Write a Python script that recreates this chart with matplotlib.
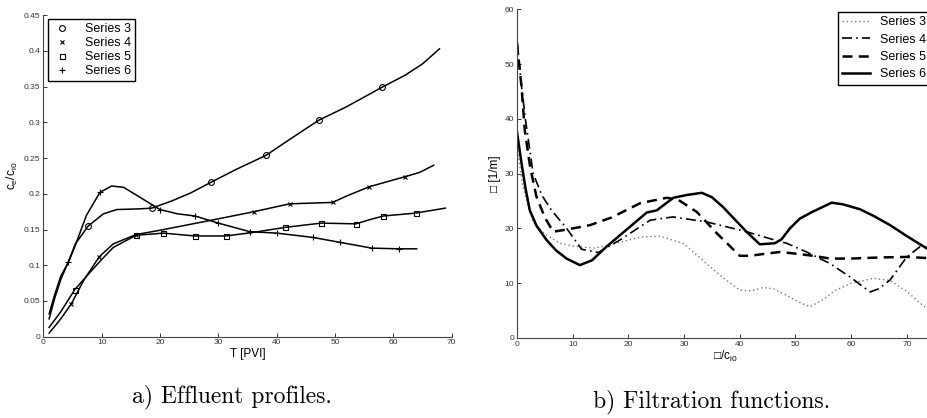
import numpy as np
import matplotlib
matplotlib.use("Agg")
import matplotlib.pyplot as plt

plt.rcParams['font.family'] = ['Liberation Sans', 'DejaVu Sans']
plt.rcParams['mathtext.fontset'] = 'custom'
plt.rcParams['mathtext.rm'] = 'Liberation Sans'
plt.rcParams['mathtext.it'] = 'Liberation Sans'

labels = ['Series 3', 'Series 4', 'Series 5', 'Series 6']

# a) effluent profiles: smooth line points
s3_x = [1, 2, 3, 4.3, 5.5, 7.7, 10.3, 12.6, 16.6, 18.6, 22, 25.2, 28.7, 33, 38.2, 42, 47.2, 52, 58, 62, 65, 67.9]
s3_y = [0.025, 0.055, 0.08, 0.105, 0.13, 0.155, 0.172, 0.178, 0.179, 0.18, 0.19, 0.201, 0.216, 0.234, 0.254,
        0.275, 0.303, 0.322, 0.349, 0.366, 0.382, 0.403]
s4_x = [1, 3, 4.8, 7, 9.6, 12, 15.9, 20, 25, 30, 36.1, 42.2, 49.6, 52, 55.9, 62, 64.5, 66.9]
s4_y = [0.005, 0.025, 0.046, 0.08, 0.112, 0.13, 0.143, 0.149, 0.157, 0.165, 0.175, 0.186, 0.188, 0.197,
        0.21, 0.224, 0.23, 0.24]
s5_x = [1, 3, 5.4, 8, 10, 12, 15.9, 20.6, 26, 31.3, 36, 41.4, 47.6, 53.6, 56, 58.3, 63.8, 68.9]
s5_y = [0.013, 0.035, 0.066, 0.09, 0.108, 0.125, 0.142, 0.145, 0.141, 0.141, 0.146, 0.153, 0.159, 0.158,
        0.164, 0.169, 0.173, 0.18]
s6_x = [1, 2, 3, 4.3, 5.4, 7.4, 9.7, 11.7, 13.8, 16, 18.6, 20, 23, 26, 30, 35.4, 40, 46.2, 50.9, 56.3, 61, 64]
s6_y = [0.032, 0.06, 0.085, 0.104, 0.126, 0.17, 0.202, 0.211, 0.209, 0.198, 0.185, 0.178, 0.172, 0.169,
        0.159, 0.147, 0.145, 0.139, 0.132, 0.124, 0.123, 0.123]

# marker positions
m3_x = [7.7, 18.6, 28.7, 38.2, 47.2, 58]
m3_y = [0.155, 0.18, 0.216, 0.254, 0.303, 0.349]
m4_x = [4.8, 9.6, 15.9, 36.1, 42.2, 49.6, 55.9, 62]
m4_y = [0.046, 0.112, 0.143, 0.175, 0.186, 0.188, 0.21, 0.224]
m5_x = [5.4, 15.9, 20.6, 26, 31.3, 41.4, 47.6, 53.6, 58.3, 63.8]
m5_y = [0.066, 0.142, 0.145, 0.141, 0.141, 0.153, 0.159, 0.158, 0.169, 0.173]
m6_x = [4.3, 9.7, 20, 26, 30, 35.4, 40, 46.2, 50.9, 56.3, 61]
m6_y = [0.104, 0.202, 0.178, 0.169, 0.159, 0.147, 0.145, 0.139, 0.132, 0.124, 0.123]

# b) filtration functions
f3_x = [0, 1, 2, 3, 5, 7.7, 10, 13.7, 16, 18.5, 22.1, 25.7, 30, 34, 37, 40, 42, 44.2, 46, 48.4, 50.5,
        52.6, 55, 57, 60, 64, 67, 70, 73.5]
f3_y = [35, 28, 24, 21, 19, 17.3, 16.8, 16.4, 16.8, 17.5, 18.4, 18.6, 17.2, 13.6, 11, 8.75, 8.6, 9.2, 9,
        7.8, 6.6, 5.7, 7, 8.6, 10, 10.9, 10.5, 8.5, 5.4]
f4_x = [0, 0.7, 1.5, 2.9, 4.5, 6.2, 8.7, 11.6, 14.6, 18.5, 22.1, 23.9, 28, 34, 41.2, 47.2, 48.4, 52, 56.2,
        60, 63.4, 65, 67, 70, 72.4, 73.5]
f4_y = [54.5, 47, 40, 30, 26, 23.3, 20.3, 16.2, 15.6, 17.9, 20.3, 21.5, 22.1, 21.2, 19.4, 17.6, 17.3, 15.7,
        13.6, 11, 8.4, 9, 10.6, 14.8, 16.7, 16.6]
f5_x = [0, 0.8, 1.4, 2.4, 3.5, 5, 6.5, 9, 13.1, 17, 22.1, 26.9, 29, 32.3, 35.9, 40, 41.8, 44, 47.2, 50,
        53.2, 56.2, 60, 65.2, 70, 73.5]
f5_y = [53.7, 46, 37.9, 31, 25.8, 22, 19.4, 19.8, 20.6, 22, 24.6, 25.6, 25.2, 23, 19.1, 15, 15, 15.3, 15.7,
        15.4, 15, 14.5, 14.5, 14.7, 14.8, 14.6]
f6_x = [0, 0.8, 1.5, 2.3, 3.5, 5.3, 7, 8.9, 11.3, 13.5, 16.1, 19.7, 23.3, 25.1, 28.1, 30.5, 33.2, 35, 37,
        41.2, 43.6, 46.3, 47.5, 49, 50.8, 53, 56.5, 58.5, 61.6, 64, 67, 70, 73.5]
f6_y = [37.6, 32, 27.5, 23.3, 20.5, 17.9, 16, 14.5, 13.3, 14.2, 16.7, 19.8, 22.9, 23.3, 25.6, 26.1, 26.5,
        25.7, 23.9, 19.4, 17.1, 17.3, 18, 20, 21.8, 23, 24.7, 24.4, 23.5, 22.3, 20.6, 18.6, 16.4]

fig = plt.figure(figsize=(9.27, 4.18), dpi=100)

ax1 = fig.add_axes([0.0467, 0.1945, 0.4406, 0.769])
for x, y in [(s3_x, s3_y), (s4_x, s4_y), (s5_x, s5_y), (s6_x, s6_y)]:
    ax1.plot(x, y, color='black', lw=1.1)
mk = dict(color='black', ls='none', mfc='none', mew=0.8)
ax1.plot(m3_x, m3_y, marker='o', ms=4.2, label=labels[0], **mk)
ax1.plot(m4_x, m4_y, marker='x', ms=3.2, label=labels[1], **mk)
ax1.plot(m5_x, m5_y, marker='s', ms=3.6, label=labels[2], **mk)
ax1.plot(m6_x, m6_y, marker='+', ms=4.5, label=labels[3], **mk)
ax1.set_xlim(0, 70)
ax1.set_ylim(0, 0.45)
ax1.set_xticks(np.arange(0, 71, 10))
ax1.set_yticks(np.arange(0, 0.451, 0.05))
ax1.set_yticklabels(['0', '0.05', '0.1', '0.15', '0.2', '0.25', '0.3', '0.35', '0.4', '0.45'])
ax1.set_xlabel('T [PVI]', fontsize=8.5, labelpad=1)
ax1.set_ylabel(r'c$_\mathregular{e}$/c$_\mathregular{i0}$', fontsize=8.5, labelpad=3)
leg1 = ax1.legend(loc='upper left', bbox_to_anchor=(48 / 927, 1 - 19 / 418),
                  bbox_transform=fig.transFigure, borderaxespad=0, fancybox=False,
                  edgecolor='black', fontsize=9, labelspacing=0.15, handlelength=1.6,
                  handletextpad=1.0, borderpad=0.35, framealpha=1)
leg1.get_frame().set_linewidth(1.0)

ax2 = fig.add_axes([0.5577, 0.1914, 416 / 927, 0.7864])
ax2.plot(f3_x, f3_y, color='#777777', ls=(0, (1, 2)), lw=1.0, label=labels[0])
ax2.plot(f4_x, f4_y, color='black', ls=(0, (6, 2.5, 1, 2.5)), lw=1.2, label=labels[1])
ax2.plot(f5_x, f5_y, color='black', ls=(0, (4, 2.5)), lw=1.8, label=labels[2])
ax2.plot(f6_x, f6_y, color='black', ls='-', lw=1.8, label=labels[3])
ax2.set_xlim(0, 74.7)
ax2.set_ylim(0, 60)
ax2.set_xticks(np.arange(0, 71, 10))
ax2.set_yticks(np.arange(0, 61, 10))
ax2.set_xlabel(r'□/c$_\mathregular{i0}$', fontsize=8.5, labelpad=1)
ax2.set_ylabel('□ [1/m]', fontsize=8.5, labelpad=3)
leg2 = ax2.legend(loc='upper left', bbox_to_anchor=(838 / 927, 1 - 12 / 418),
                  bbox_transform=fig.transFigure, borderaxespad=0, fancybox=False,
                  edgecolor='black', fontsize=9, labelspacing=0.42, handlelength=2.2,
                  handletextpad=0.8, borderpad=0.35, framealpha=1)
leg2.get_frame().set_linewidth(1.0)

for ax in (ax1, ax2):
    ax.spines['top'].set_visible(False)
    ax.spines['right'].set_visible(False)
    for s in ('left', 'bottom'):
        ax.spines[s].set_color('#444444')
        ax.spines[s].set_linewidth(0.8)
    ax.tick_params(direction='in', length=3, width=0.7, labelsize=6, colors='#333333', pad=2)

fig.text(232 / 927, 1 - 397 / 418, 'a) Effluent profiles.', family='cmr10', fontsize=17,
         ha='center', va='center')
fig.text(712 / 927, 1 - 402 / 418, 'b) Filtration functions.', family='cmr10', fontsize=17,
         ha='center', va='center')

fig.savefig('out.png', dpi=100)
